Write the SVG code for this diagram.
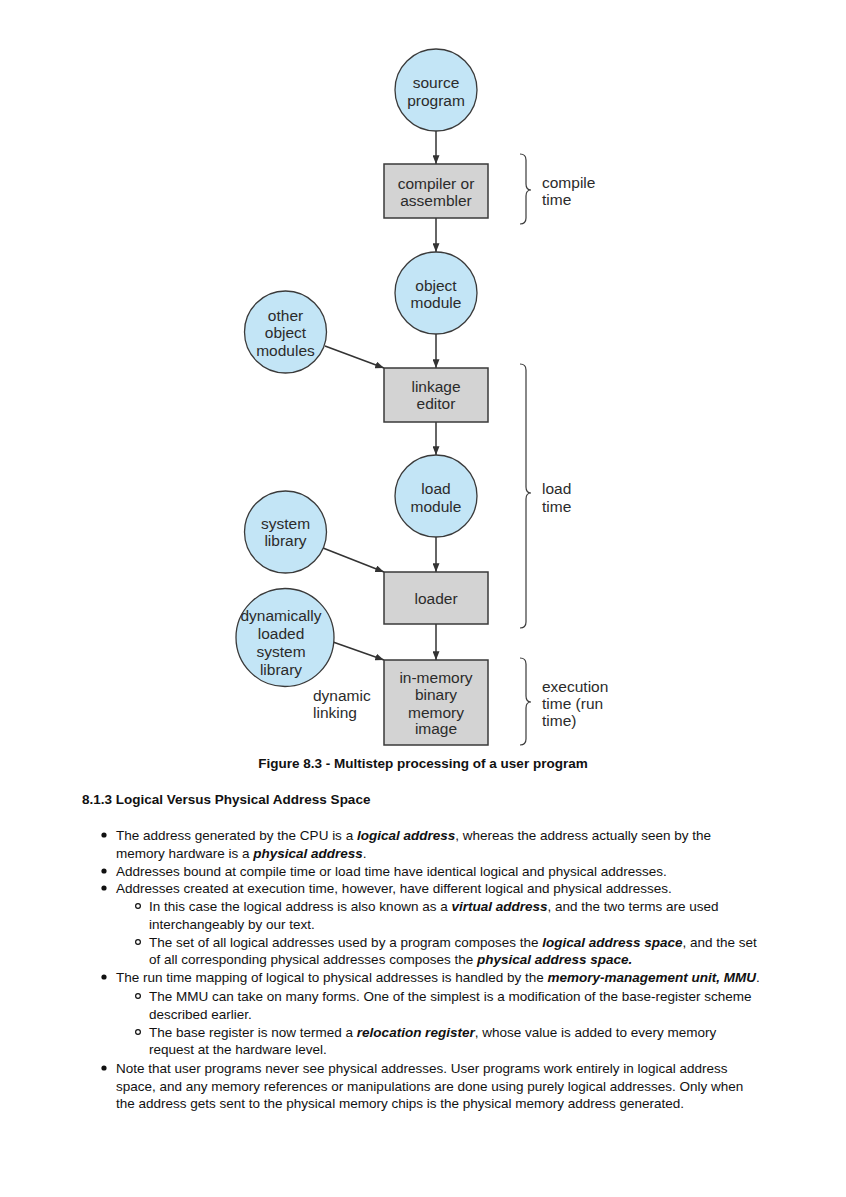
<svg xmlns="http://www.w3.org/2000/svg" width="846" height="1197" viewBox="0 0 846 1197">
<defs>
<style>
.c{fill:#c3e5f6;stroke:#3a3a3a;stroke-width:1.3}
.b{fill:#d3d3d3;stroke:#3a3a3a;stroke-width:1.5}
.t{font-family:"Liberation Sans",Arial,Helvetica,sans-serif;font-size:15.5px;fill:#2b2b2b;text-anchor:middle}
.l{font-family:"Liberation Sans",Arial,Helvetica,sans-serif;font-size:15.5px;fill:#2b2b2b}
.e{fill:none;stroke:#333;stroke-width:1.5}
.br{fill:none;stroke:#3a3a3a;stroke-width:1.2}
.p{font-family:"Liberation Sans",Arial,Helvetica,sans-serif;font-size:13.5px;fill:#111}
.h{font-family:"Liberation Sans",Arial,Helvetica,sans-serif;font-size:13.5px;font-weight:bold;fill:#111}
.bi{font-weight:bold;font-style:italic}
.dot{fill:#111}
.ring{fill:none;stroke:#111;stroke-width:1.2}
</style>
<marker id="ah" viewBox="0 0 10 8" refX="10" refY="4" markerWidth="9" markerHeight="7" markerUnits="userSpaceOnUse" orient="auto">
<path d="M0,0 L10,4 L0,8 z" fill="#333"/>
</marker>
</defs>
<rect width="846" height="1197" fill="#fff"/>

<g id="connectors">
<line class="e" x1="436" y1="131" x2="436" y2="164" marker-end="url(#ah)"/>
<line class="e" x1="436" y1="218" x2="436" y2="252" marker-end="url(#ah)"/>
<line class="e" x1="436" y1="334" x2="436" y2="368" marker-end="url(#ah)"/>
<line class="e" x1="325" y1="346" x2="384" y2="368" marker-end="url(#ah)"/>
<line class="e" x1="436" y1="422" x2="436" y2="455" marker-end="url(#ah)"/>
<line class="e" x1="436" y1="537" x2="436" y2="572" marker-end="url(#ah)"/>
<line class="e" x1="323" y1="548" x2="384" y2="572" marker-end="url(#ah)"/>
<line class="e" x1="436" y1="624" x2="436" y2="660" marker-end="url(#ah)"/>
<line class="e" x1="333" y1="642" x2="384" y2="660" marker-end="url(#ah)"/>
</g>

<g id="source-program">
<circle class="c" cx="436" cy="90" r="41"/>
<text class="t" x="436" y="87.5">source</text>
<text class="t" x="436" y="105.5">program</text>
</g>
<g id="compiler">
<rect class="b" x="384" y="164" width="104" height="54"/>
<text class="t" x="436" y="188.5">compiler or</text>
<text class="t" x="436" y="205.5">assembler</text>
</g>
<g id="object-module">
<circle class="c" cx="436" cy="293" r="41"/>
<text class="t" x="436" y="290.5">object</text>
<text class="t" x="436" y="307.5">module</text>
</g>
<g id="other-object-modules">
<circle class="c" cx="285.5" cy="332" r="41"/>
<text class="t" x="285.5" y="320.5">other</text>
<text class="t" x="285.5" y="337.5">object</text>
<text class="t" x="285.5" y="355.5">modules</text>
</g>
<g id="linkage-editor">
<rect class="b" x="384" y="368" width="104" height="54"/>
<text class="t" x="436" y="391.5">linkage</text>
<text class="t" x="436" y="408.5">editor</text>
</g>
<g id="load-module">
<circle class="c" cx="436" cy="496" r="41"/>
<text class="t" x="436" y="493.5">load</text>
<text class="t" x="436" y="511.5">module</text>
</g>
<g id="system-library">
<circle class="c" cx="285.5" cy="532" r="41"/>
<text class="t" x="285.5" y="528.5">system</text>
<text class="t" x="285.5" y="545.5">library</text>
</g>
<g id="loader">
<rect class="b" x="384" y="572" width="104" height="52"/>
<text class="t" x="436" y="603.5">loader</text>
</g>
<g id="dynamically-loaded-system-library">
<circle class="c" cx="285" cy="637.5" r="49"/>
<text class="t" x="281" y="621">dynamically</text>
<text class="t" x="281" y="638.5">loaded</text>
<text class="t" x="281" y="657">system</text>
<text class="t" x="281" y="675">library</text>
</g>
<g id="in-memory-image">
<rect class="b" x="384" y="660" width="104" height="85"/>
<text class="t" x="436" y="682.5">in-memory</text>
<text class="t" x="436" y="699.5">binary</text>
<text class="t" x="436" y="717.5">memory</text>
<text class="t" x="436" y="733.5">image</text>
</g>
<g id="dynamic-linking-label">
<text class="l" x="313" y="700.5">dynamic</text>
<text class="l" x="313" y="717.5">linking</text>
</g>

<g id="compile-time">
<path class="br" d="M520,154 Q526,154 526,160 L526,184 Q526,190 531,190 Q526,190 526,196 L526,218 Q526,224 520,224"/>
<text class="l" x="542" y="187.5">compile</text>
<text class="l" x="542" y="204.5">time</text>
</g>
<g id="load-time">
<path class="br" d="M520,364 Q526,364 526,370 L526,487 Q526,493 531,493 Q526,493 526,499 L526,622 Q526,628 520,628"/>
<text class="l" x="542" y="493.5">load</text>
<text class="l" x="542" y="511.5">time</text>
</g>
<g id="execution-time">
<path class="br" d="M520,658 Q526,658 526,664 L526,696 Q526,702 531,702 Q526,702 526,708 L526,739 Q526,745 520,745"/>
<text class="l" x="542" y="691.5">execution</text>
<text class="l" x="542" y="708.5">time (run</text>
<text class="l" x="542" y="725.5">time)</text>
</g>

<text class="h" x="423" y="768" text-anchor="middle">Figure 8.3 - Multistep processing of a user program</text>

<text class="h" x="82" y="804">8.1.3 Logical Versus Physical Address Space</text>

<circle class="dot" cx="104" cy="835" r="2.6"/>
<text class="p" x="116" y="839.5">The address generated by the CPU is a <tspan class="bi">logical address</tspan>, whereas the address actually seen by the</text>
<text class="p" x="116" y="857.5">memory hardware is a <tspan class="bi">physical address</tspan>.</text>
<circle class="dot" cx="104" cy="871" r="2.6"/>
<text class="p" x="116" y="875.5">Addresses bound at compile time or load time have identical logical and physical addresses.</text>
<circle class="dot" cx="104" cy="888" r="2.6"/>
<text class="p" x="116" y="892.5">Addresses created at execution time, however, have different logical and physical addresses.</text>
<circle class="ring" cx="138" cy="906" r="2.4"/>
<text class="p" x="149" y="910.5">In this case the logical address is also known as a <tspan class="bi">virtual address</tspan>, and the two terms are used</text>
<text class="p" x="149" y="928.5">interchangeably by our text.</text>
<circle class="ring" cx="138" cy="942" r="2.4"/>
<text class="p" x="149" y="946.5">The set of all logical addresses used by a program composes the <tspan class="bi">logical address space</tspan>, and the set</text>
<text class="p" x="149" y="964">of all corresponding physical addresses composes the <tspan class="bi">physical address space.</tspan></text>
<circle class="dot" cx="104" cy="977" r="2.6"/>
<text class="p" x="116" y="981.5">The run time mapping of logical to physical addresses is handled by the <tspan class="bi">memory-management unit, MMU</tspan>.</text>
<circle class="ring" cx="138" cy="996" r="2.4"/>
<text class="p" x="149" y="1000.5">The MMU can take on many forms. One of the simplest is a modification of the base-register scheme</text>
<text class="p" x="149" y="1018.5">described earlier.</text>
<circle class="ring" cx="138" cy="1032" r="2.4"/>
<text class="p" x="149" y="1036.5">The base register is now termed a <tspan class="bi">relocation register</tspan>, whose value is added to every memory</text>
<text class="p" x="149" y="1053.5">request at the hardware level.</text>
<circle class="dot" cx="104" cy="1068" r="2.6"/>
<text class="p" x="116" y="1072.5">Note that user programs never see physical addresses. User programs work entirely in logical address</text>
<text class="p" x="116" y="1090.5">space, and any memory references or manipulations are done using purely logical addresses. Only when</text>
<text class="p" x="116" y="1107.5">the address gets sent to the physical memory chips is the physical memory address generated.</text>
</svg>
